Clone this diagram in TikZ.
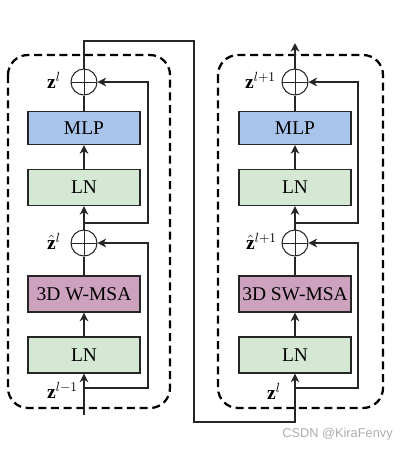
\documentclass[tikz,border=0pt]{standalone}
\usepackage{fontspec}
\setmainfont{Liberation Serif}
\newfontfamily\wmfont{Liberation Sans}
\usetikzlibrary{arrows.meta}
\definecolor{mlpblue}{RGB}{169,196,235}
\definecolor{lngreen}{RGB}{213,232,212}
\definecolor{msapink}{RGB}{205,162,190}
\begin{document}
\begin{tikzpicture}[x=0.75pt,y=-0.75pt,
  blk/.style={draw=black!85, line width=0.85pt, minimum width=84pt, minimum height=27pt, inner sep=0pt, font=\fontsize{14.6}{17}\selectfont},
  lnbox/.style={blk, fill=lngreen},
  mlpbox/.style={blk, fill=mlpblue, minimum height=24.75pt},
  msabox/.style={blk, fill=msapink},
  sumnode/.style={circle, draw=black!85, line width=0.75pt, minimum size=19.5pt, inner sep=0pt,
    path picture={\draw[line width=0.6pt] (path picture bounding box.north) -- (path picture bounding box.south) (path picture bounding box.west) -- (path picture bounding box.east);}},
  conn/.style={draw=black!85, line width=0.8pt},
  arr/.style={conn, -{Stealth[length=6.5pt,width=6.5pt,inset=2pt]}},
  thickarr/.style={arr, line width=1.1pt},
  dbox/.style={draw=black, line width=1.7pt, dash pattern=on 6pt off 3.5pt, rounded corners=15pt},
  lab/.style={font=\fontsize{14.6}{17}\selectfont, inner sep=0pt}
]
\useasboundingbox (0,0) rectangle (408,451);

% dashed frames
\draw[dbox] (8,55) rectangle (170,408);
\draw[dbox] (218,55) rectangle (383,408);

% left block
\node[sumnode] (s1a) at (84,82) {};
\node[mlpbox] (mlp1) at (84,128) {MLP};
\node[lnbox] (ln1b) at (84,187.5) {LN};
\node[sumnode] (s1b) at (84,243) {};
\node[msabox] (msa1) at (84,294) {3D W-MSA};
\node[lnbox] (ln1a) at (84,355) {LN};

% right block
\node[sumnode] (s2a) at (295,82) {};
\node[mlpbox] (mlp2) at (295,128) {MLP};
\node[lnbox] (ln2b) at (295,187.5) {LN};
\node[sumnode] (s2b) at (295,243) {};
\node[msabox] (msa2) at (295,294) {3D SW-MSA};
\node[lnbox] (ln2a) at (295,355) {LN};

% labels
\node[lab, anchor=east] (l1) at (61,80) {$\mathbf{z}^{l}$};
\node[lab, anchor=east] (l2) at (61,241) {$\hat{\mathbf{z}}^{l}$};
\node[lab, anchor=east] (l3) at (78,390) {$\mathbf{z}^{l-1}$};
\node[lab, anchor=east] (l4) at (276,80) {$\mathbf{z}^{l+1}$};
\node[lab, anchor=east] (l5) at (277,241) {$\hat{\mathbf{z}}^{l+1}$};
\node[lab, anchor=east] (l6) at (281,391) {$\mathbf{z}^{l}$};

% coordinates
\coordinate (in1) at (84,415);
\coordinate (r1a) at (84,388);
\coordinate (r1b) at (84,223);
\coordinate (top1) at (84,41);
\coordinate (bend1) at (194,422);
\coordinate (in2) at (295,422);
\coordinate (r2a) at (295,388);
\coordinate (r2b) at (295,223);
\coordinate (out2) at (295,43);

% left connectors
\draw[thickarr] (in1) -- (ln1a);
\draw[thickarr] (ln1a) -- (msa1);
\draw[conn] (msa1) -- (s1b);
\draw[thickarr] (s1b) -- (ln1b);
\draw[thickarr] (ln1b) -- (mlp1);
\draw[conn] (mlp1) -- (s1a);
\draw[arr] (r1a) -| (148,243) -- (s1b);
\draw[arr] (r1b) -| (148,82) -- (s1a);

% link between blocks
\draw[arr] (s1a) -- (top1) -| (bend1) -- (in2) -- (ln2a);

% right connectors
\draw[thickarr] (ln2a) -- (msa2);
\draw[conn] (msa2) -- (s2b);
\draw[thickarr] (s2b) -- (ln2b);
\draw[thickarr] (ln2b) -- (mlp2);
\draw[conn] (mlp2) -- (s2a);
\draw[thickarr] (s2a) -- (out2);
\draw[arr] (r2a) -| (358,243) -- (s2b);
\draw[arr] (r2b) -| (358,82) -- (s2a);

% watermark
\node[font=\wmfont\fontsize{9.6}{11}\selectfont, text=black!32, anchor=east, inner sep=0pt] (wm) at (393,434) {CSDN @KiraFenvy};
\end{tikzpicture}
\end{document}
